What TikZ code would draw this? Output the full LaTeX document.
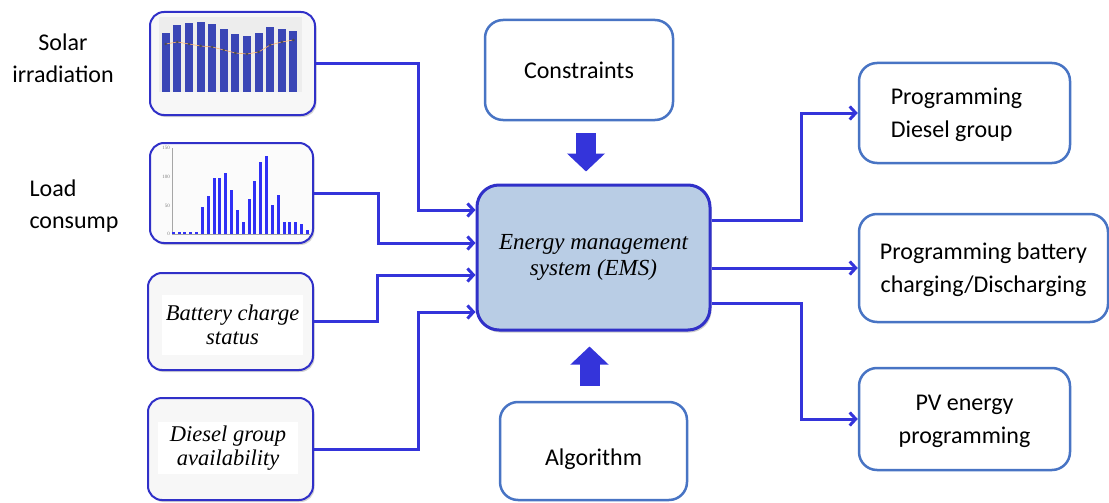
\documentclass[tikz,border=0pt]{standalone}
\usepackage{fontspec}
\setmainfont{Liberation Serif}
\newfontfamily\calibri{Carlito}
\usetikzlibrary{arrows.meta,shadows}

\definecolor{linkblue}{RGB}{52,52,218}
\definecolor{framedark}{RGB}{48,48,200}
\definecolor{boxblue}{RGB}{72,116,196}
\definecolor{emsfill}{RGB}{185,205,229}
\definecolor{barnavy}{RGB}{58,70,182}
\definecolor{barbright}{RGB}{48,48,245}

\tikzset{
  outbox/.style={draw=boxblue,line width=2.5pt,rounded corners=18pt,fill=white,
    font=\calibri\fontsize{24}{33}\selectfont,align=center,text depth=0pt},
  srcbox/.style={draw=framedark,line width=2pt,rounded corners=14pt,fill=gray!6,
    drop shadow={shadow xshift=1.5pt,shadow yshift=-2pt,opacity=.35}},
  emsbox/.style={draw=framedark,line width=3pt,rounded corners=22pt,fill=emsfill,
    drop shadow={shadow xshift=1.5pt,shadow yshift=-2.5pt,opacity=.4},
    font=\itshape\fontsize{23}{26}\selectfont,align=center},
  srctext/.style={fill=white,font=\itshape\fontsize{22.5}{24.5}\selectfont,align=center},
  sidelabel/.style={font=\calibri\fontsize{24}{32}\selectfont},
  conn/.style={draw=linkblue,line width=3pt,-{Straight Barb[length=6pt,width=13pt]}},
  fatarrow/.style={draw=linkblue,line width=20pt,-{Triangle[length=18pt,width=37pt]}},
  ticklab/.style={text=gray,font=\fontsize{5}{6}\selectfont,inner sep=1pt,anchor=east}
}

\begin{document}
\begin{tikzpicture}[x=1pt,y=-1pt]
  \useasboundingbox (0,0) rectangle (1109,503);

  % inputs
  \node[sidelabel,align=center] (sollab) at (63,58) {Solar\\irradiation};
  \node[sidelabel,align=left,anchor=west] (loadlab) at (26,206) {Load\\consump};

  \node[srcbox,minimum width=165pt,minimum height=103pt] (sol) at (232.5,63.5) {};
  \node[srcbox,minimum width=163pt,minimum height=100pt,fill=gray!3] (load) at (231.5,193) {};
  \node[srcbox,minimum width=165pt,minimum height=97pt] (bat) at (230.5,321.5) {};
  \node[srcbox,minimum width=165pt,minimum height=102pt] (dsl) at (230.5,449) {};

  % solar chart
  \fill[gray!14] (159,17) rectangle (302,92);
  \foreach \h [count=\i] in {33,25,23,22,24,29,34,36,33,27,29,31}
    \fill[barnavy] ({161.7+11.6*(\i-1)},\h) rectangle ++(8,92-\h);
  \draw[orange!60,line width=.6pt] plot[mark=*,mark size=1pt,
      mark options={draw=black!70,fill=black!70}]
    coordinates {(165.7,44) (177.3,42) (189,44) (200.6,46) (212.2,47) (223.8,50)
                 (235.4,53) (247,54) (258.6,52) (270.2,45) (281.8,42) (293.4,40)};

  % load chart
  \draw[gray!70,line width=.5pt] (172,148) -- (172,234) -- (310,234);
  \foreach \v/\y in {0/234,50/205.7,100/176.7,150/147.7}
    \node[ticklab] (tick\v) at (171,\y) {\v};
  \foreach \t [count=\i] in {232,232,232,232,232,206.7,196,177.7,177.7,173.3,190,210.3,
                             222.3,199,180.7,162.3,156,205,195.3,222.3,222.3,222.3,223.7,230}
    \fill[barbright] ({171.8+5.83*(\i-1)},\t) rectangle ++(3,234-\t);

  % text boxes
  \node[srctext,minimum width=139pt,minimum height=60pt] (battxt) at (232.5,325) {Battery charge\\status};
  \node[srctext,minimum width=140pt,minimum height=50pt] (dsltxt) at (228,448) {Diesel group\\availability};

  % centre
  \node[emsbox,minimum width=233pt,minimum height=145pt] (ems) at (593.5,257.5) {Energy management\\system (EMS)};
  \node[outbox,minimum width=188pt,minimum height=100pt] (cons) at (579,70) {Constraints};
  \node[outbox,minimum width=187pt,minimum height=98pt] (alg) at (593.5,451) {\\[-4pt]Algorithm};

  % outputs
  \node[outbox,minimum width=211pt,minimum height=100pt,align=left] (pdg) at (964.5,113) {Programming\hspace*{16pt}\\Diesel group};
  \node[outbox,minimum width=249pt,minimum height=108pt] (pbc) at (983.5,268) {Programming battery\\charging/Discharging};
  \node[outbox,minimum width=211pt,minimum height=102pt] (pve) at (964.5,419) {PV energy\\programming};

  % links
  \draw[conn] (sol.east) -- ++(102,0) |- ([yshift=47.5pt]ems.west);
  \draw[conn] (load.east) -- ++(64,0) |- ([yshift=14.5pt]ems.west);
  \draw[conn] (bat.east) -- ++(63,0) |- ([yshift=-17.5pt]ems.west);
  \draw[conn] (dsl.east) -- ++(104,0) |- ([yshift=-54.5pt]ems.west);

  \draw[conn] ([yshift=37.5pt]ems.east) -- ++(90,0) |- (pdg.west);
  \draw[conn] (ems.east |- pbc.west) -- (pbc.west);
  \draw[conn] ([yshift=-45.5pt]ems.east) -- ++(90,0) |- (pve.west);

  \draw[fatarrow,shorten <=12pt,shorten >=12pt] ([xshift=7pt]cons.south) -- ([xshift=-7.5pt]ems.north);
  \draw[fatarrow,shorten <=15pt,shorten >=15pt] ([xshift=-4pt]alg.north) -- ([xshift=-4pt]ems.south);
\end{tikzpicture}
\end{document}
